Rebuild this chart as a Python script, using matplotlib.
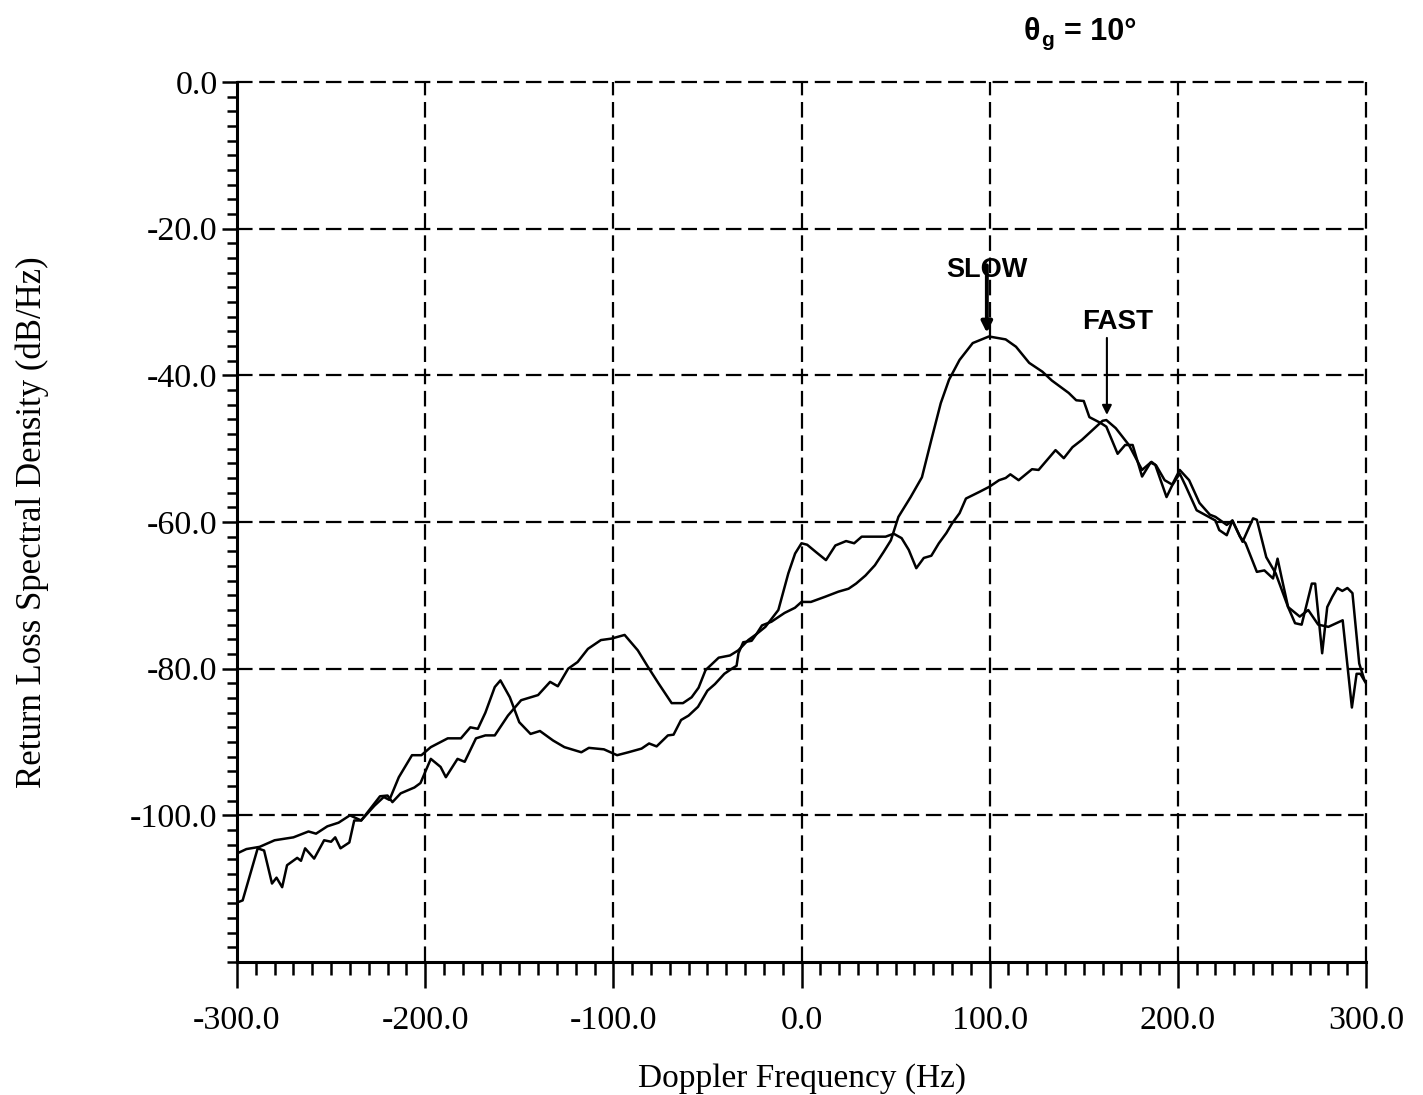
#!/usr/bin/env python3
"""
Return loss spectral density vs Doppler frequency, slow and fast curves
(grazing angle 10 deg). Writes out.png.
"""

import matplotlib
matplotlib.use("Agg")
import matplotlib.pyplot as plt
from matplotlib.ticker import MultipleLocator, FormatStrFormatter


# ---------------------------------------------------------------------
# Data (Hz, dB/Hz)
# ---------------------------------------------------------------------
slow_freq = [
    -300, -295, -288, -280, -270, -262, -258, -252, -246, -240, -234,
    -227, -222, -219, -214, -207, -202, -197, -188, -181, -176, -172,
    -168, -163, -160, -155, -150, -144, -139, -132, -126, -117, -113,
    -105, -98, -92, -85, -81, -77, -71, -68, -64, -60, -55, -50, -46,
    -41, -37, -34.5, -33.5, -31, -26.5, -24, -21, -16, -9, -3.5, 0, 5,
    12.5, 19.6, 25, 29, 34, 39, 43.6, 47.5, 51.5, 58, 64, 69, 74, 78.4,
    84, 91, 99.6, 108.5, 114, 121, 128, 133, 142, 146, 150, 153, 159,
    162, 168, 172, 176, 181, 185.5, 188, 194, 197, 201, 204, 210, 215,
    220, 222, 226, 229, 233, 236, 242, 246, 250.6, 253, 255, 258.6,
    264.8, 269.3, 274.6, 280, 287.6, 292.5, 295, 297, 300,
]
slow_db = [
    -105.2, -104.6, -104.3, -103.4, -103.0, -102.2, -102.5, -101.5,
    -101.0, -100.0, -100.7, -98.7, -97.5, -97.9, -94.8, -91.8, -91.8,
    -90.7, -89.5, -89.5, -88.0, -88.2, -86.0, -82.5, -81.6, -83.9, -87.3,
    -88.9, -88.5, -89.8, -90.7, -91.4, -90.8, -91.0, -91.8, -91.4, -90.9,
    -90.2, -90.6, -89.1, -89.0, -87.0, -86.4, -85.2, -83.0, -82.1, -80.7,
    -80.0, -79.6, -77.9, -76.4, -76.2, -75.3, -74.1, -73.6, -72.4, -71.7,
    -70.9, -70.9, -70.2, -69.5, -69.1, -68.4, -67.3, -65.9, -64.1, -62.5,
    -59.3, -56.6, -53.9, -48.8, -43.8, -40.6, -37.9, -35.6, -34.7, -35.1,
    -36.1, -38.3, -39.5, -40.7, -42.4, -43.4, -43.5, -45.7, -46.5, -47.0,
    -50.7, -49.5, -49.5, -53.8, -51.9, -52.2, -56.6, -55.0, -53.4, -55.0,
    -58.4, -59.1, -59.8, -61.1, -61.8, -59.8, -62.0, -62.9, -66.8, -66.6,
    -67.7, -65.0, -67.4, -71.6, -72.9, -72.0, -74.0, -74.3, -73.4, -85.3,
    -80.7, -80.7, -82.0,
]

fast_freq = [
    -300, -297, -289, -285.6, -281.4, -279, -276, -273.4, -268, -266,
    -263.8, -259, -253.7, -250, -247.8, -245, -240.3, -237.7, -234, -227,
    -224, -220, -217.4, -213, -205.7, -202.5, -197, -191.8, -189, -182.8,
    -179, -173, -168, -163, -156, -149, -140, -133.6, -129.5, -124, -119,
    -113.5, -106.6, -101, -94, -87, -81.5, -76, -69, -63, -58.4, -54.7,
    -51, -44, -38, -33.6, -28.3, -24, -19.2, -12.3, -7, -3.4, 0, 3, 7.7,
    13, 18, 23.7, 28, 32, 44.7, 49, 53.2, 57, 61, 65, 69, 73, 77, 80, 84,
    87.4, 94.5, 99.8, 105, 108.5, 111, 115.4, 122.5, 126, 135, 139.4, 144,
    149, 154.5, 160, 162, 167, 174, 181, 186, 188.5, 193, 197, 201, 206,
    211.5, 217, 220, 226, 229, 234.4, 240, 242, 247, 252, 258.6, 262.3,
    265.8, 271.2, 273, 276.7, 279.4, 282.1, 284.8, 287.4, 290.1, 292.8,
    296.4, 299.1,
]
fast_db = [
    -111.9, -111.6, -104.5, -104.8, -109.3, -108.5, -109.8, -106.8,
    -105.8, -106.2, -104.5, -105.9, -103.4, -103.6, -103.0, -104.5,
    -103.7, -100.7, -100.7, -98.4, -97.4, -97.3, -98.2, -97.0, -96.2,
    -95.6, -92.3, -93.4, -94.8, -92.3, -92.7, -89.5, -89.1, -89.1, -86.4,
    -84.3, -83.6, -81.8, -82.4, -80.0, -79.1, -77.3, -76.1, -75.9, -75.4,
    -77.5, -79.8, -82.0, -84.7, -84.7, -83.9, -82.6, -80.2, -78.5, -78.2,
    -77.5, -76.1, -75.3, -74.3, -72.0, -67.0, -64.3, -62.9, -63.1, -64.1,
    -65.2, -63.2, -62.6, -62.9, -62.0, -62.0, -61.6, -62.2, -63.8, -66.3,
    -64.9, -64.6, -62.9, -61.5, -60.2, -58.8, -56.8, -55.9, -55.2, -54.3,
    -54.0, -53.5, -54.3, -52.8, -52.9, -50.2, -51.3, -49.8, -48.8, -47.5,
    -46.2, -46.1, -47.2, -49.5, -52.9, -51.8, -52.3, -54.3, -54.9, -52.9,
    -54.3, -57.4, -59.0, -59.3, -60.4, -59.8, -62.7, -59.5, -59.7, -64.8,
    -67.0, -71.6, -73.8, -74.0, -68.4, -68.4, -77.9, -71.6, -70.2, -69.0,
    -69.4, -69.0, -69.7, -79.3, -81.5,
]

# peak markers: (label, freq, db of arrow tip)
slow_peak = ("SLOW", 98.5, -34.2)
fast_peak = ("FAST", 162.3, -45.4)


def main():
    plt.rcParams["axes.unicode_minus"] = False
    serif = ["Liberation Serif", "DejaVu Serif"]
    sans = ["Liberation Sans", "DejaVu Sans"]

    W, H = 1423, 1095
    fig = plt.figure(figsize=(W / 100, H / 100), dpi=100)
    ax = fig.add_axes([237 / W, 1 - 962 / H, (1366 - 237) / W, (962 - 82) / H])

    ax.plot(slow_freq, slow_db, color="black", lw=1.8, zorder=3)
    ax.plot(fast_freq, fast_db, color="black", lw=1.8, zorder=3)

    ax.set_xlim(-300, 300)
    ax.set_ylim(-120, 0)

    # --- ticks ---------------------------------------------------------
    ax.set_xticks([-300, -200, -100, 0, 100, 200, 300])
    ax.set_yticks([0, -20, -40, -60, -80, -100])
    ax.xaxis.set_minor_locator(MultipleLocator(10))
    ax.yaxis.set_minor_locator(MultipleLocator(2))
    ax.xaxis.set_major_formatter(FormatStrFormatter("%.1f"))
    ax.yaxis.set_major_formatter(FormatStrFormatter("%.1f"))
    ax.tick_params(axis="x", which="major", direction="out", length=19,
                   width=1.8, pad=12, labelsize=24.5)
    ax.tick_params(axis="x", which="minor", direction="out", length=9.5,
                   width=1.8)
    ax.tick_params(axis="y", which="major", direction="out", length=11,
                   width=1.8, pad=3, labelsize=24.5)
    ax.tick_params(axis="y", which="minor", direction="out", length=7.5,
                   width=1.8)
    for lab in ax.get_xticklabels() + ax.get_yticklabels():
        lab.set_family(serif)

    # --- frame + dashed grid ---------------------------------------------
    ax.spines["top"].set_visible(False)
    ax.spines["right"].set_visible(False)
    ax.spines["left"].set_linewidth(2.2)
    ax.spines["bottom"].set_linewidth(2.2)
    dash = (0, (7, 3))
    for gx in [-200, -100, 0, 100, 200, 300]:
        ax.axvline(gx, color="black", lw=1.6, ls=dash, clip_on=False, zorder=1)
    for gy in [0, -20, -40, -60, -80, -100]:
        ax.axhline(gy, color="black", lw=1.6, ls=dash, clip_on=False, zorder=1)

    # --- axis labels -------------------------------------------------------
    ax.set_xlabel("Doppler Frequency (Hz)", family=serif, fontsize=24,
                  labelpad=20)
    fig.text(32 / W, 1 - 522 / H, "Return Loss Spectral Density (dB/Hz)",
             family=serif, fontsize=25, rotation=90, ha="center", va="center")

    # --- peak annotations --------------------------------------------------
    label, fx, fy = slow_peak
    ax.text(fx, -25.6, label, family=sans, weight="bold", fontsize=19.5,
            ha="center", va="center")
    ax.annotate("", xy=(fx, fy), xytext=(fx, -25.0),
                arrowprops=dict(arrowstyle="-|>", color="black", lw=2.8,
                                mutation_scale=16, shrinkA=0, shrinkB=0))
    label, fx, fy = fast_peak
    ax.text(168, -32.7, label, family=sans, weight="bold", fontsize=20,
            ha="center", va="center")
    ax.annotate("", xy=(fx, fy), xytext=(fx, -34.9),
                arrowprops=dict(arrowstyle="-|>", color="black", lw=1.5,
                                mutation_scale=14, shrinkA=0, shrinkB=0))

    # --- theta_g header ----------------------------------------------------
    fig.text(1024 / W, 1 - 40 / H, "θ", family=sans, weight="bold",
             fontsize=22, ha="left", va="baseline")
    fig.text(1041 / W, 1 - 46 / H, "g", family=sans, weight="bold",
             fontsize=15, ha="left", va="baseline")
    fig.text(1064 / W, 1 - 40 / H, "= 10°", family=sans, weight="bold",
             fontsize=22, ha="left", va="baseline")

    fig.savefig("out.png", dpi=100, facecolor="white")


if __name__ == "__main__":
    main()
